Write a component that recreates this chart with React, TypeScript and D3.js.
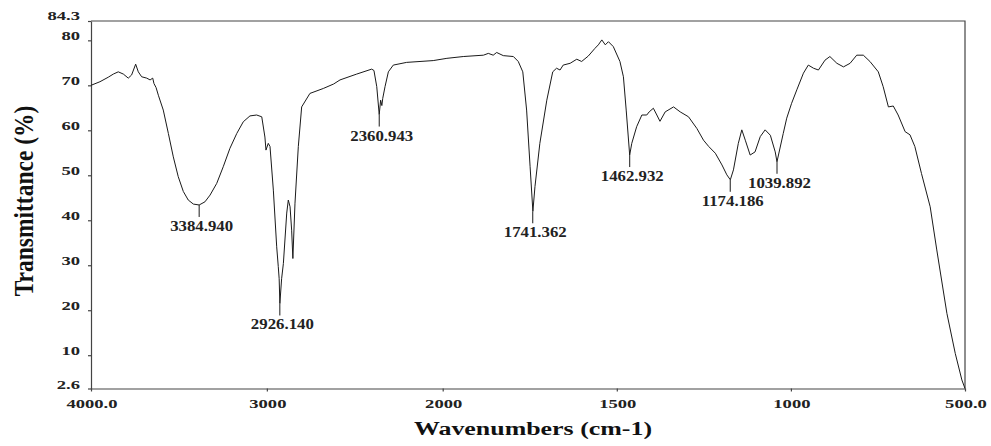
import React, { useEffect, useRef } from 'react';
import * as d3 from 'd3';

// spectrum (cm-1, %T)
const wavenumbers = [
  4000, 3949, 3902, 3873, 3845, 3816, 3788, 3769, 3746, 3731, 3712, 3683, 3664, 3649, 3642, 3630,
  3617, 3589, 3560, 3532, 3504, 3475, 3447, 3418, 3385, 3352, 3323, 3285, 3248, 3210, 3171, 3134,
  3096, 3058, 3029, 3011, 3005,
  2992, 2982, 2963, 2944, 2935, 2930, 2926, 2916, 2906, 2887, 2878, 2868, 2859, 2852, 2840, 2821,
  2802, 2755, 2679, 2620, 2584, 2489, 2404, 2391, 2375, 2361, 2353, 2346, 2341, 2328, 2309, 2281,
  2205, 2054, 1988, 1941, 1883, 1869, 1855, 1845, 1826, 1797, 1783, 1770, 1759, 1749, 1741, 1735,
  1721, 1701, 1684, 1673, 1663, 1654, 1634, 1615, 1601, 1582, 1563, 1553, 1543, 1533, 1524, 1510,
  1491, 1481, 1473, 1463, 1457, 1443, 1428, 1414, 1407, 1395, 1385, 1376, 1361, 1337, 1318, 1294,
  1270, 1251, 1236, 1217, 1198, 1184, 1174, 1165, 1151, 1141, 1131, 1117, 1103, 1088, 1074, 1059,
  1045, 1040, 1022, 1012, 998, 983, 964, 950, 935, 921, 902, 888, 868, 849, 830, 811,
  792, 773, 749, 735, 720, 706, 692, 672, 658, 644, 625, 600, 581, 552, 528, 509, 500,
];
const transmittance = [
  70.0, 70.8, 71.8, 72.5, 73.0, 72.5, 71.6, 72.3, 74.7, 73.0, 71.9, 71.6, 71.2, 71.6, 70.4, 69.5,
  67.8, 64.5, 59.3, 54.1, 49.7, 46.4, 44.5, 43.6, 43.4, 44.1, 45.6, 48.2, 51.9, 56.0, 59.3, 61.9,
  63.2, 63.4, 63.0, 58.5, 55.6,
  57.1, 56.4, 46.7, 34.1, 29.7, 27.0, 21.5, 27.0, 30.4, 41.6, 44.5, 43.0, 37.8, 31.5, 43.8, 56.4,
  65.2, 68.2, 69.3, 70.3, 71.2, 72.5, 73.6, 73.3, 69.7, 63.5, 66.7, 65.5, 67.1, 69.7, 73.0, 74.5,
  75.1, 75.5, 76.0, 76.4, 76.7, 77.1, 76.7, 77.3, 76.6, 76.4, 75.3, 73.0, 64.5, 51.9, 42.0, 47.5,
  57.1, 66.7, 73.0, 73.8, 73.4, 74.5, 74.9, 75.8, 75.3, 76.5, 78.2, 79.0, 80.1, 79.0, 79.7, 78.6,
  75.3, 71.9, 64.5, 54.5, 57.1, 60.8, 63.4, 63.4, 64.1, 64.9, 63.4, 62.0, 64.1, 65.2, 64.1, 63.0,
  60.4, 57.8, 56.4, 54.9, 52.3, 50.1, 49.0, 51.2, 57.1, 60.1, 57.8, 54.5, 55.2, 58.6, 60.1, 58.9,
  55.2, 53.0, 59.3, 62.7, 66.0, 69.0, 72.7, 74.5, 73.8, 73.4, 75.6, 76.4, 74.9, 74.1, 74.9, 76.7,
  76.7, 75.3, 73.0, 69.7, 65.2, 65.4, 63.4, 59.7, 59.0, 56.4, 50.4, 43.0, 33.4, 19.3, 10.4, 4.5, 2.6,
];

const peakWavenumbers = [3384.94, 2926.14, 2360.943, 1741.362, 1462.932, 1174.186, 1039.892];
const peakDepths = [43.4, 21.5, 63.5, 42.0, 54.5, 49.0, 53.0];
const peakLabels = ['3384.940', '2926.140', '2360.943', '1741.362', '1462.932', '1174.186', '1039.892'];

const xTickValues = [4000, 3000, 2000, 1500, 1000, 500];
const xTickLabels = ['4000.0', '3000', '2000', '1500', '1000', '500.0'];
const yTickValues = [84.3, 80, 70, 60, 50, 40, 30, 20, 10, 2.6];
const yTickLabels = ['84.3', '80', '70', '60', '50', '40', '30', '20', '10', '2.6'];

const FONT = '"Liberation Serif", "Times New Roman", serif';

function App() {
  const ref = useRef<SVGSVGElement>(null);

  useEffect(() => {
    const svg = d3.select(ref.current);
    svg.selectAll('*').remove();

    // the instrument expands the scale below 2000 cm-1
    const x = d3.scaleLinear().domain([4000, 2000, 500]).range([91, 442.7, 965]);
    const y = d3.scaleLinear().domain([2.6, 84.3]).range([388.5, 21]);

    const g = svg.append('g');

    // frame top and right
    g.append('path')
      .attr('d', `M${x(4000)},${y(84.3)}H${x(500)}V${y(2.6)}`)
      .attr('fill', 'none')
      .attr('stroke', '#444')
      .attr('stroke-width', 1.2);

    const yAxis = g.append('g')
      .attr('transform', `translate(${x(4000)},0)`)
      .call(d3.axisLeft(y).tickValues(yTickValues).tickSize(3).tickSizeOuter(0));
    const xAxis = g.append('g')
      .attr('transform', `translate(0,${y(2.6)})`)
      .call(d3.axisBottom(x).tickValues(xTickValues).tickSize(3).tickSizeOuter(0));
    [yAxis, xAxis].forEach(a => {
      a.selectAll('text').remove();
      a.selectAll('path, line').attr('stroke', '#444').attr('stroke-width', 1.2);
    });

    g.selectAll('.ylab')
      .data(yTickValues)
      .join('text')
      .attr('class', 'ylab')
      .attr('transform', (d, i) => `translate(80,${y(d) - (i === 0 ? 1.5 : 0)}) scale(1.55,1)`)
      .attr('text-anchor', 'end')
      .style('font-family', FONT)
      .style('font-weight', 'bold')
      .style('font-size', '12px')
      .attr('fill', '#222')
      .text((d, i) => yTickLabels[i]);

    g.selectAll('.xlab')
      .data(xTickValues)
      .join('text')
      .attr('class', 'xlab')
      .attr('transform', d => `translate(${x(d) + 1},408) scale(1.55,1)`)
      .attr('text-anchor', 'middle')
      .style('font-family', FONT)
      .style('font-weight', 'bold')
      .style('font-size', '12px')
      .attr('fill', '#222')
      .text((d, i) => xTickLabels[i]);

    const line = d3.line<number>()
      .x(d => x(d))
      .y((d, i) => y(transmittance[i]));

    g.append('path')
      .datum(wavenumbers)
      .attr('d', line)
      .attr('fill', 'none')
      .attr('stroke', '#1a1a1a')
      .attr('stroke-width', 1)
      .attr('stroke-linejoin', 'round');

    // peak markers
    g.selectAll('.pline')
      .data(peakWavenumbers)
      .join('line')
      .attr('class', 'pline')
      .attr('x1', d => x(d))
      .attr('x2', d => x(d))
      .attr('y1', (d, i) => y(peakDepths[i]))
      .attr('y2', (d, i) => y(peakDepths[i]) + 12)
      .attr('stroke', '#1a1a1a')
      .attr('stroke-width', 1);

    g.selectAll('.plab')
      .data(peakWavenumbers)
      .join('text')
      .attr('class', 'plab')
      .attr('transform', (d, i) => `translate(${x(d) + 2.5},${y(peakDepths[i]) + 26}) scale(1.2,1)`)
      .attr('text-anchor', 'middle')
      .style('font-family', FONT)
      .style('font-weight', 'bold')
      .style('font-size', '14px')
      .attr('fill', '#222')
      .text((d, i) => peakLabels[i]);

    g.append('text')
      .attr('transform', 'translate(533,435) scale(1.4,1)')
      .attr('text-anchor', 'middle')
      .style('font-family', FONT)
      .style('font-weight', 'bold')
      .style('font-size', '18.5px')
      .attr('fill', '#111')
      .text('Wavenumbers (cm-1)');

    g.append('text')
      .attr('transform', 'translate(33,201) rotate(-90) scale(1,1.2)')
      .attr('text-anchor', 'middle')
      .style('font-family', FONT)
      .style('font-weight', 'bold')
      .style('font-size', '23.5px')
      .attr('fill', '#111')
      .text('Transmittance (%)');
  }, []);

  return (
    <div style={{ position: 'absolute', left: 0, top: 0 }}>
      <svg ref={ref} width={991} height={446} style={{ display: 'block', background: '#fff' }} />
    </div>
  );
}

export default App;
